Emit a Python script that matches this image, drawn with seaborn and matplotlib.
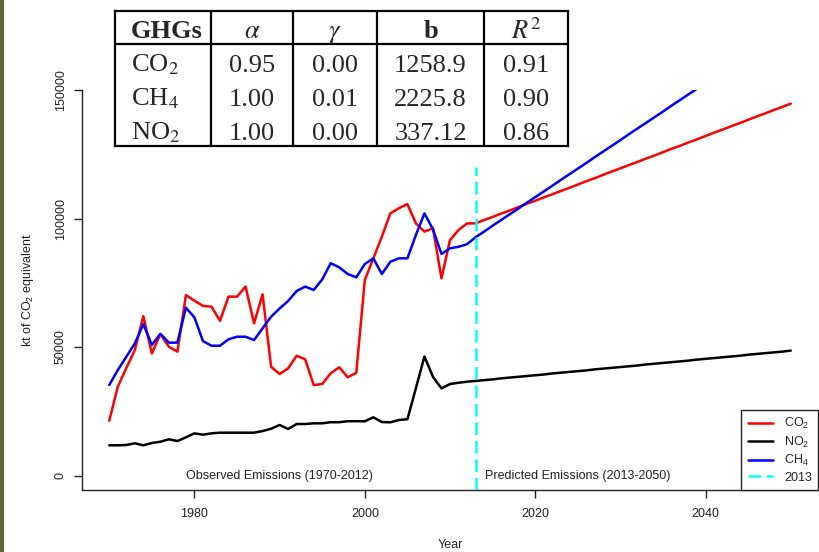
import matplotlib
matplotlib.use("Agg")
import matplotlib.pyplot as plt
import seaborn as sns
import pandas as pd
from matplotlib.patches import Rectangle

# ---------------- data ----------------
years = list(range(1970, 2051))

co2 = [21300, 34500, 41800, 48800, 62000, 47500, 55000, 50100, 48200, 70200,
       68000, 66000, 65700, 60200, 69600, 69600, 73500, 59200, 70500, 42300,
       39500, 41700, 46600, 45200, 35200, 35600, 39800, 42100, 38200, 40000,
       76100, 84500, 92900, 102000, 104000, 105600, 98100, 94900, 96200, 76700,
       91600, 95500, 98100, 98100,
       99400, 100600, 101900, 103100, 104400, 105700, 106900, 108200, 109400, 110700,
       111900, 113200, 114500, 115700, 117000, 118300, 119500, 120800, 122000, 123300,
       124500, 125800, 127100, 128300, 129600, 130800, 132100, 133400, 134600, 135900,
       137100, 138400, 139700, 140900, 142200, 143400, 144700]

ch4 = [35200, 41000, 46200, 51400, 58900, 50800, 55100, 51700, 51700, 65300,
       61500, 52300, 50500, 50500, 53000, 54000, 54000, 52700, 57300, 61800,
       65000, 67900, 71800, 73500, 72200, 76300, 82600, 81000, 78400, 77100,
       82300, 84500, 78400, 83200, 84500, 84500, 93600, 102000, 95800, 86200,
       88400, 89000, 90000, 92700,
       94900, 97200, 99400, 101600, 103800, 106100, 108300, 110500, 112700, 115000,
       117200, 119400, 121600, 123900, 126100, 128300, 130500, 132800, 135000, 137200,
       139400, 141600, 143900, 146100, 148300, 150500, 152800, 155000, 157200, 159400,
       161700, 163900, 166100, 168300, 170600, 172800, 175000]

no2 = [11750, 11750, 11870, 12530, 11750, 12650, 13150, 14080, 13420, 14860,
       16400, 15880, 16400, 16660, 16660, 16660, 16660, 16660, 17300, 18200,
       19650, 18100, 20040, 20040, 20300, 20300, 20740, 20740, 21130, 21130,
       21100, 22640, 20800, 20700, 21600, 21900, 34000, 46300, 38400, 33900,
       35600, 36100, 36500, 36800,
       37100, 37400, 37800, 38100, 38400, 38700, 39000, 39300, 39700, 40000,
       40300, 40600, 40900, 41300, 41600, 41900, 42200, 42500, 42800, 43200,
       43500, 43800, 44100, 44400, 44700, 45100, 45400, 45700, 46000, 46300,
       46600, 47000, 47300, 47600, 47900, 48200, 48600]

split_year = 2013
split_top = 120000

series_labels = ["CO$_2$", "NO$_2$", "CH$_4$"]
series_colors = ["#ff0000", "#000000", "#0000ff"]

xticks = [1980, 2000, 2020, 2040]
yticks = [0, 50000, 100000, 150000]
ytick_labels = ["0", "50000", "100000", "150000"]

table_header = ["GHGs", r"$\alpha$", r"$\gamma$", "b", r"$R^2$"]
table_gases = ["CO$_2$", "CH$_4$", "NO$_2$"]
table_alpha = ["0.95", "1.00", "1.00"]
table_gamma = ["0.00", "0.01", "0.00"]
table_b = ["1258.9", "2225.8", "337.12"]
table_r2 = ["0.91", "0.90", "0.86"]

# ---------------- style ----------------
sns.set_style("ticks")
plt.rcParams["font.family"] = ["Liberation Sans", "DejaVu Sans"]
plt.rcParams["mathtext.fontset"] = "custom"
plt.rcParams["mathtext.rm"] = "Liberation Sans"
plt.rcParams["mathtext.it"] = "Liberation Sans:italic"
plt.rcParams["mathtext.bf"] = "Liberation Sans:bold"

W, H = 820, 552
fig = plt.figure(figsize=(W / 100, H / 100), dpi=100)
fig.patch.set_facecolor("white")

# green strip at left edge
fig.patches.append(Rectangle((0, 0), 4 / W, 1, transform=fig.transFigure,
                             facecolor="#5a6a30", edgecolor="none"))

ax = fig.add_axes([82 / W, 1 - 490 / H, (818 - 82) / W, (490 - 90) / H])

df = pd.DataFrame({"Year": years, "CO2": co2, "NO2": no2, "CH4": ch4})
for col, lab, colr in zip(["CO2", "NO2", "CH4"], series_labels, series_colors):
    sns.lineplot(data=df, x="Year", y=col, ax=ax, color=colr, linewidth=1.8,
                 label=lab)

ax.set_xlim(1966.8, 2053.2)
ax.set_ylim(-5640, 150000)
ax.vlines(split_year, -5640, split_top, colors="#00ffff", linewidth=1.8,
          linestyles=(0, (5, 2.4)), label="2013", zorder=3)

ax.set_xticks(xticks)
ax.set_yticks(yticks)
ax.set_yticklabels(ytick_labels, rotation=90, va="center")
ax.tick_params(axis="both", direction="out", length=6, width=1, colors="#222222",
               labelsize=9, labelcolor="#222222")
ax.tick_params(axis="x", pad=7)
ax.tick_params(axis="y", pad=5)
sns.despine(ax=ax, top=True, right=True)
for s in ["left", "bottom"]:
    ax.spines[s].set_color("#222222")
    ax.spines[s].set_linewidth(1)

ax.set_xlabel("Year", fontsize=9, color="#222222")
ax.set_ylabel("kt of CO$_2$ equivalent", fontsize=9, color="#222222")
ax.xaxis.set_label_coords(0.5, -0.123)
ax.yaxis.set_label_coords(-0.063, 0.5)

ax.text(1990, 0, "Observed Emissions (1970-2012)", fontsize=9, ha="center",
        va="center", color="#222222")
ax.text(2025, 0, "Predicted Emissions (2013-2050)", fontsize=9, ha="center",
        va="center", color="#222222")

handles, labels = ax.get_legend_handles_labels()
leg = ax.legend(handles, labels, loc="lower right", bbox_to_anchor=(1.0, 0.0),
                borderaxespad=0, fontsize=9, frameon=True, fancybox=False,
                edgecolor="#222222", framealpha=1, handlelength=2.0,
                handletextpad=0.9, labelspacing=0.28, borderpad=0.5)
leg.get_frame().set_linewidth(1)

# ---------------- table overlay ----------------
tx0, tx1, ty0, ty1 = 115, 568, 11, 146
tab = fig.add_axes([tx0 / W, 1 - ty1 / H, (tx1 - tx0) / W, (ty1 - ty0) / H])
tab.set_xlim(tx0, tx1)
tab.set_ylim(ty1, ty0)
tab.set_facecolor("white")
tab.set_xticks([])
tab.set_yticks([])
for s in tab.spines.values():
    s.set_visible(True)
    s.set_linewidth(1.6)
    s.set_color("black")

col_edges = [115, 211, 293, 377, 484, 568]
for xe in col_edges[1:-1]:
    tab.plot([xe, xe], [ty0, ty1], color="black", linewidth=1.6)
tab.plot([tx0, tx1], [43.5, 43.5], color="black", linewidth=1.6)

serif = ["Liberation Serif", "DejaVu Serif"]
fs = 19
hdr_base = 38.5
row_base = [71.5, 105.5, 139.5]
centers = [(col_edges[i] + col_edges[i + 1]) / 2 for i in range(5)]

tab.text(131, hdr_base, table_header[0], fontsize=fs, family=serif,
         fontweight="bold", ha="left", va="baseline")
tab.text(centers[1], hdr_base, table_header[1], fontsize=fs, family=serif,
         ha="center", va="baseline", math_fontfamily="stix")
tab.text(centers[2], hdr_base, table_header[2], fontsize=fs, family=serif,
         ha="center", va="baseline", math_fontfamily="stix")
tab.text(centers[3], hdr_base, table_header[3], fontsize=fs, family=serif,
         fontweight="bold", ha="center", va="baseline")
tab.text(centers[4], hdr_base, table_header[4], fontsize=fs, family=serif,
         ha="center", va="baseline", math_fontfamily="stix")

for i in range(3):
    yb = row_base[i]
    tab.text(131, yb, table_gases[i], fontsize=fs, family=serif, ha="left",
             va="baseline", math_fontfamily="stix")
    for j, vals in enumerate([table_alpha, table_gamma, table_b, table_r2]):
        tab.text(centers[j + 1], yb, vals[i], fontsize=fs, family=serif,
                 ha="center", va="baseline")

fig.savefig("out.png", dpi=100, facecolor="white")
